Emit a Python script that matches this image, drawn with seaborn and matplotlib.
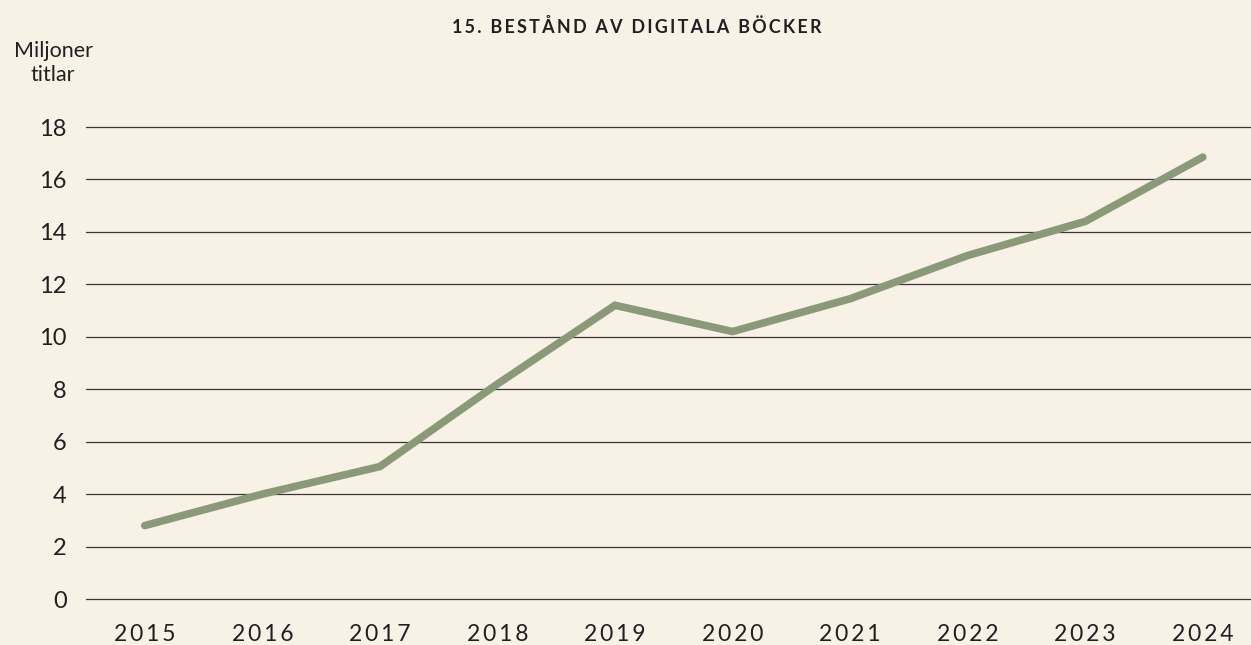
import pandas as pd
import matplotlib.pyplot as plt
import seaborn as sns

# Data
years = [2015, 2016, 2017, 2018, 2019, 2020, 2021, 2022, 2023, 2024]
titles_millions = [2.8, 4.0, 5.05, 8.2, 11.2, 10.2, 11.45, 13.1, 14.4, 16.85]
y_ticks = [0, 2, 4, 6, 8, 10, 12, 14, 16, 18]

title = "15. BESTÅND AV DIGITALA BÖCKER"
y_label = "Miljoner\ntitlar"

bg = "#F7F1E6"
line_color = "#8A9A78"
text_color = "#231F20"
grid_color = "#3A3836"

sns.set_theme(style="white")
plt.rcParams["font.family"] = ["Lato", "DejaVu Sans"]


def spaced(s, sep="\u2009"):
    # fake letter spacing with thin spaces
    return sep.join(s)


df = pd.DataFrame({"year": years, "value": titles_millions})

fig = plt.figure(figsize=(12.51, 6.45), dpi=100, facecolor=bg)
ax = fig.add_axes([86 / 1251, 46 / 645, 1165 / 1251, 472 / 645])
ax.set_facecolor(bg)

# Gridlines
for t in y_ticks:
    ax.axhline(t, color=grid_color, lw=0.9, zorder=1, clip_on=False)

sns.lineplot(data=df, x="year", y="value", ax=ax, color=line_color,
             lw=5.5, solid_capstyle="round", solid_joinstyle="miter", zorder=3)

ax.set_xlim(2014.5, 2024.41)
ax.set_ylim(0, 18)
ax.set_xticks(years)
ax.set_xticklabels([spaced(str(y)) for y in years], fontsize=16.5, color=text_color)
ax.set_yticks(y_ticks)
ax.set_yticklabels([str(t) for t in y_ticks], fontsize=17, color=text_color)
ax.tick_params(axis="x", length=0, pad=18)
ax.tick_params(axis="y", length=0, pad=14)
ax.set_xlabel("")
ax.set_ylabel("")
for sp in ax.spines.values():
    sp.set_visible(False)

fig.text(637 / 1251, 1 - 27 / 645, spaced(title),
         ha="center", va="center", fontsize=12.9, fontweight="bold", color=text_color)
fig.text(53 / 1251, 1 - 63 / 645, y_label, ha="center", va="center",
         multialignment="center", fontsize=15.5, color=text_color, linespacing=1.25)

fig.savefig("out.png", dpi=100, facecolor=bg)
